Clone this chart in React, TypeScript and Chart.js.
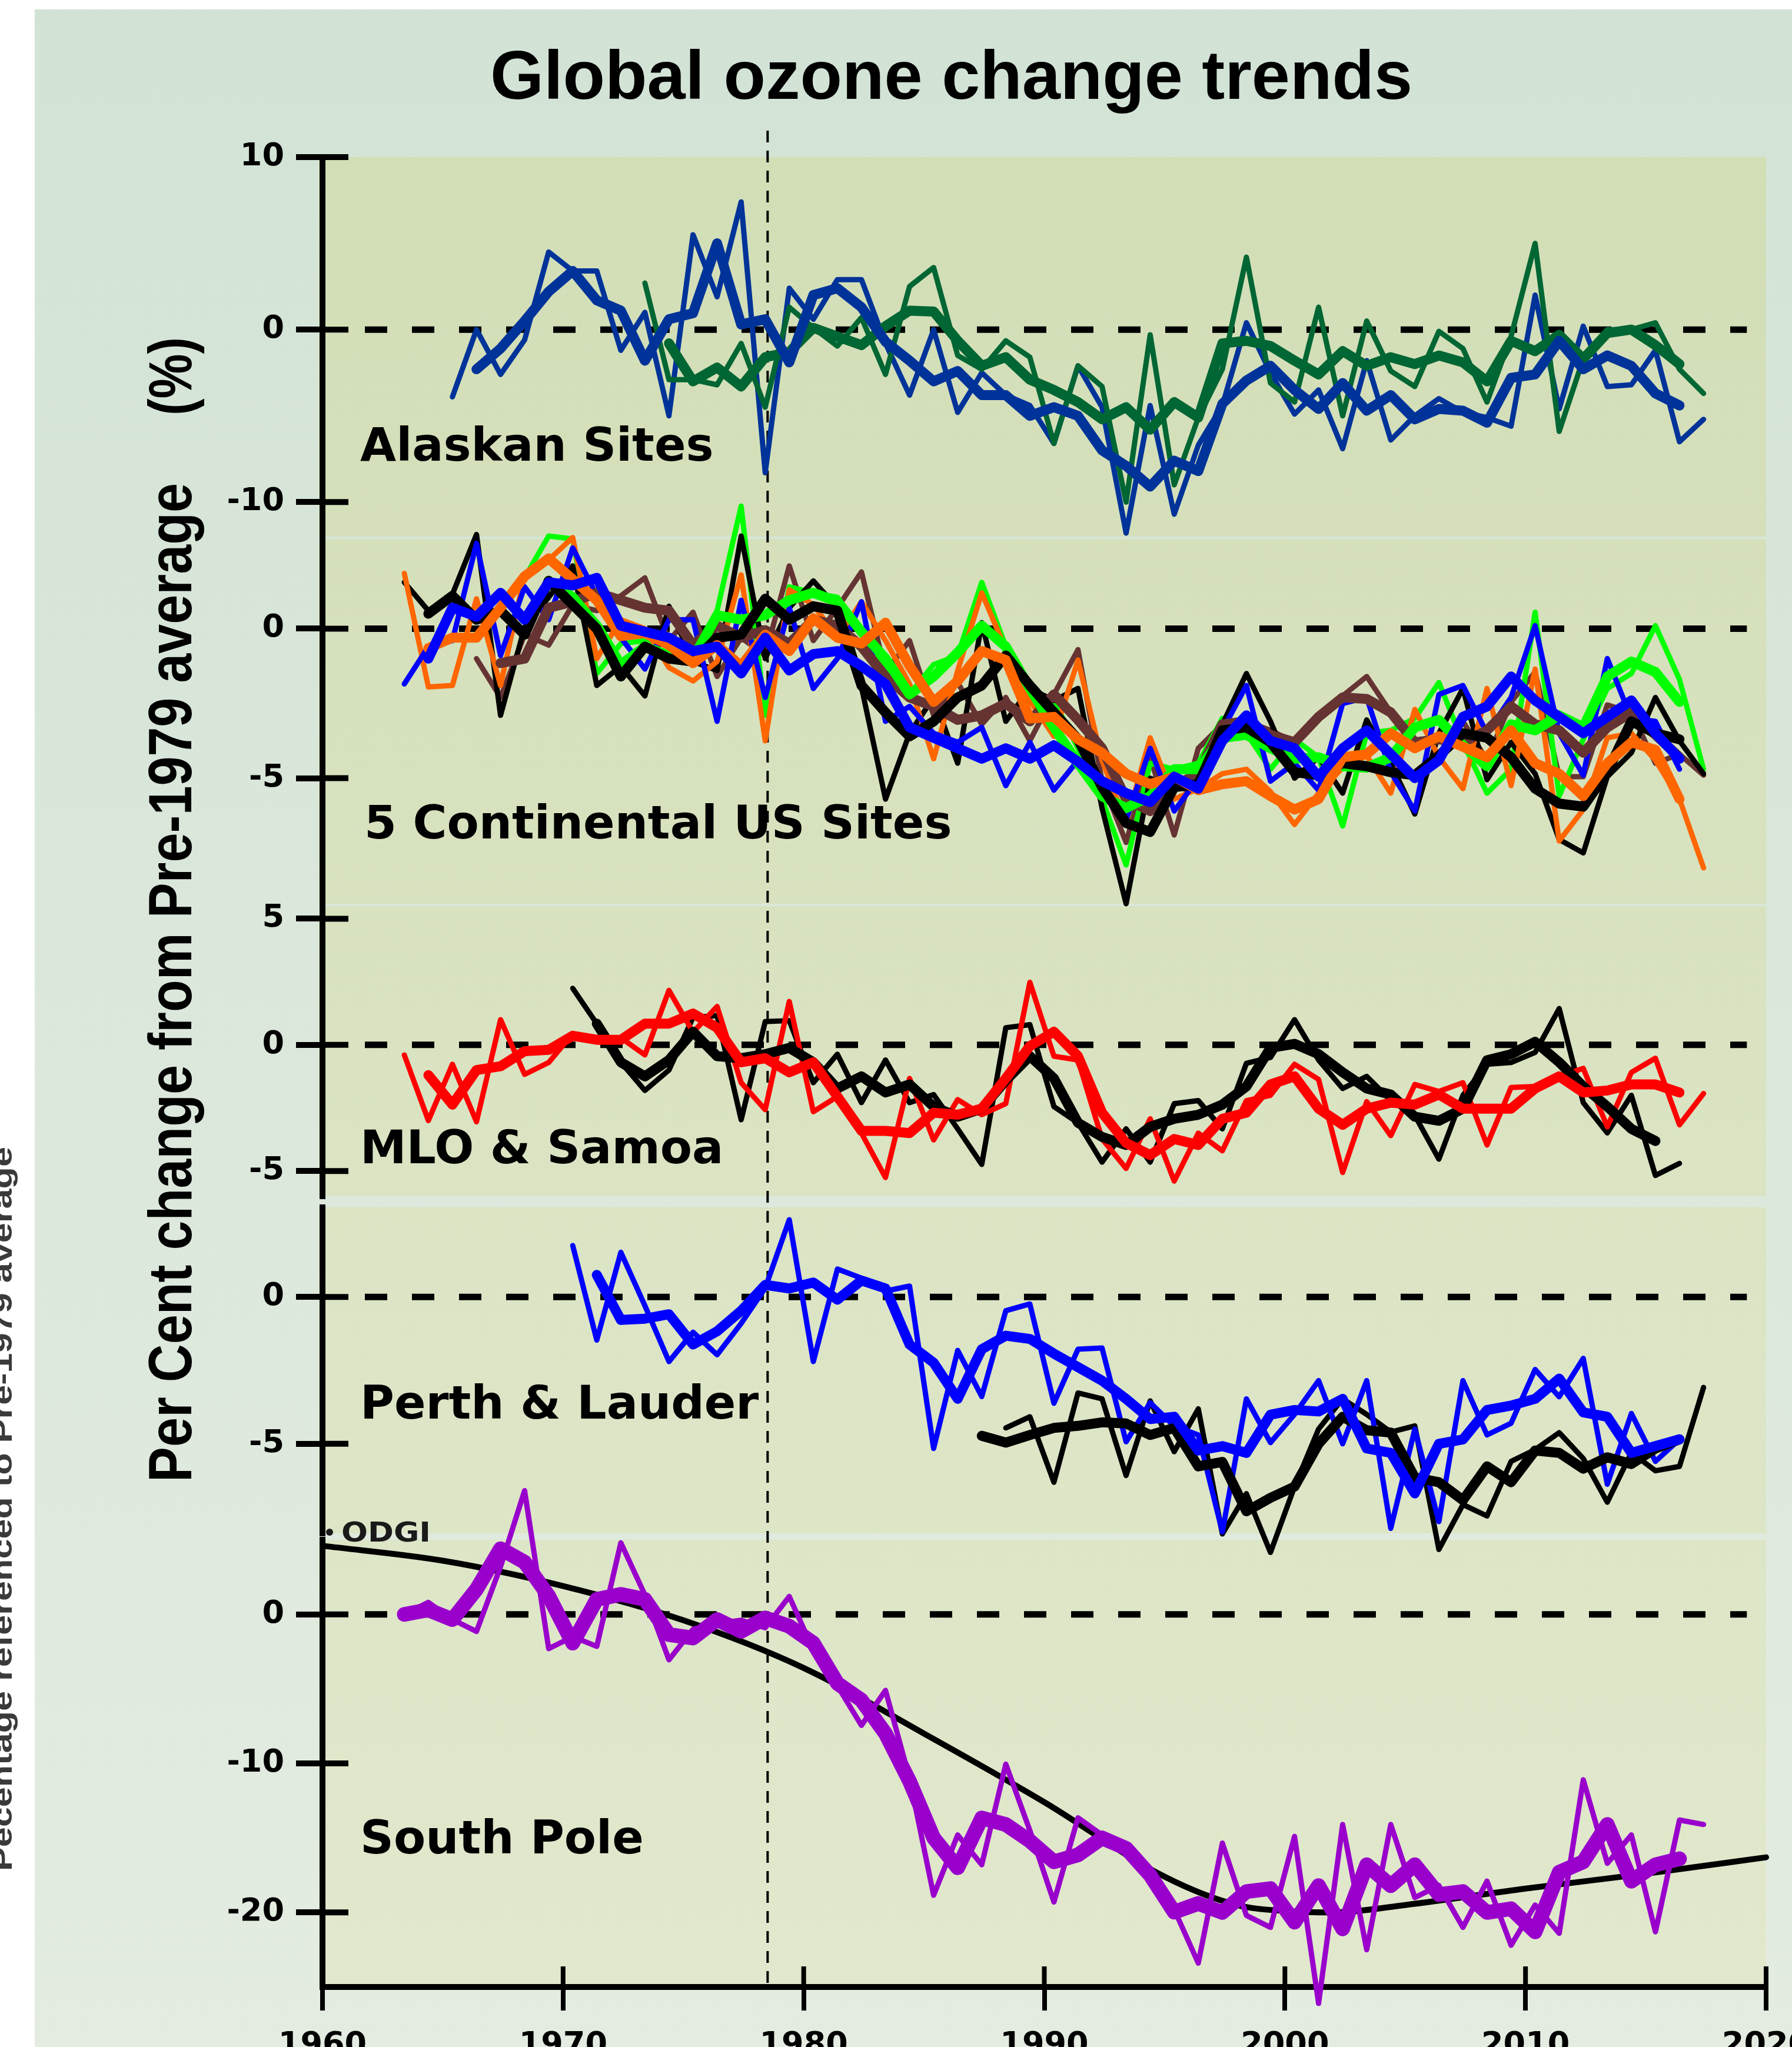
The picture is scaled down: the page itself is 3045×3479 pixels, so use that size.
import React, { useEffect, useRef } from 'react';
import { Chart, registerables } from 'chart.js';

Chart.register(...registerables);

const W = 3045;
const H = 3479;

// ---------- text ----------
const TITLE = 'Global ozone change trends';
const Y_TITLE = 'Per Cent change from Pre-1979 average';
const Y_UNIT = '(%)';
const LEFT_NOTE = 'Pecentage referenced to Pre-1979 average';
const PANEL_NAMES = ['Alaskan Sites', '5 Continental US Sites', 'MLO & Samoa', 'Perth & Lauder', 'South Pole'];
const ODGI_LABEL = 'ODGI';

// ---------- axes ----------
const X_TICKS = [1960, 1970, 1980, 1990, 2000, 2010, 2020];
const ALASKA_TICKS = [10, 0, -10];
const US_TICKS = [0, -5];
const MLO_TICKS = [5, 0, -5];
const PERTH_TICKS = [0, -5];
const SP_TICKS = [0, -10, -20];
const CUTOFF_YEAR = 1978.5;

// ---------- Alaskan sites ----------
const AK_BLUE_START = 1965.4;
const AK_BLUE_THIN = [-3.9, 0.0, -2.6, -0.6, 4.5, 3.4, 3.4, -1.2, 1.0, -5.0, 5.5, 1.9, 7.4, -8.3, 2.4, 0.6, 2.9, 2.9, -0.8, -3.8, 0.0, -4.8, -2.5, -3.8, -4.4, -6.6, -2.1, -4.5, -11.8, -4.4, -10.7, -6.7, -4.4, 0.4, -2.5, -4.9, -3.5, -6.9, -1.8, -6.4, -5.0, -4.0, -4.8, -5.1, -5.6, 2.0, -4.6, 0.2, -3.3, -3.2, -1.2, -6.5, -5.2];
const AK_BLUE_THICK_START = 1966.4;
const AK_BLUE_THICK = [-2.3, -1.1, 0.5, 2.2, 3.4, 1.7, 1.1, -1.8, 0.6, 0.95, 5.0, 0.3, 0.6, -1.9, 2.0, 2.4, 1.3, -0.7, -1.8, -3.0, -2.4, -3.8, -3.8, -5.0, -4.5, -5.0, -7.0, -7.9, -9.1, -7.6, -8.2, -4.3, -2.95, -2.1, -3.5, -4.6, -3.1, -4.7, -3.8, -5.2, -4.6, -4.7, -5.4, -2.8, -2.6, -0.65, -2.3, -1.5, -2.1, -3.7, -4.4];
const AK_GREEN_START = 1973.4;
const AK_GREEN_THIN = [2.7, -2.9, -2.9, -3.2, -0.8, -4.5, 1.3, 0.1, -0.95, 0.7, -2.6, 2.5, 3.6, -1.5, -2.3, -0.65, -1.6, -6.6, -2.1, -3.3, -10.0, -0.3, -9.0, -5.1, -2.3, 4.2, -3.1, -4.2, 1.3, -5.0, 0.5, -2.4, -3.3, -0.1, -1.1, -4.2, -0.4, 5.0, -5.9, -1.7, 0.0, 0.0, 0.4, -2.3, -3.7];
const AK_GREEN_THICK_START = 1974.4;
const AK_GREEN_THICK = [-0.8, -3.0, -2.2, -3.3, -1.6, -1.3, 0.1, -0.4, -0.9, 0.2, 1.1, 1.05, -0.65, -2.1, -1.6, -2.9, -3.5, -4.2, -5.2, -4.5, -5.8, -4.2, -5.1, -0.8, -0.65, -0.95, -1.8, -2.6, -1.25, -2.1, -1.6, -2.0, -1.5, -1.9, -3.0, -0.65, -1.25, -0.3, -1.7, -0.2, 0.0, -0.9, -2.0];

// ---------- 5 continental US sites ----------
const US_BLACK_THIN_START = 1963.4;
const US_BLACK_THIN = [1.55, 0.6, 1.15, 3.15, -2.9, 0.05, 1.05, 2.1, -1.9, -1.25, -2.25, 0.75, -1.1, -1.4, 3.1, -1.0, 0.7, 1.6, 0.7, -1.95, -5.7, -3.5, -2.3, -4.5, 0.2, -3.1, -2.0, -2.4, -2.0, -6.0, -9.2, -5.0, -5.35, -5.1, -3.2, -1.5, -3.1, -5.0, -4.3, -5.5, -3.05, -4.5, -6.2, -3.5, -2.0, -5.05, -3.8, -4.85, -7.05, -7.5, -4.95, -4.15, -2.3, -3.75, -4.85];
const US_BLACK_THICK_START = 1964.4;
const US_BLACK_THICK = [0.5, 1.1, 0.3, 0.6, -0.2, 1.6, 0.8, 0.0, -1.6, -0.6, -1.0, -1.1, -0.3, -0.2, 1.0, 0.3, 0.75, 0.6, -1.9, -2.8, -3.6, -3.1, -2.3, -1.9, -0.9, -1.9, -2.8, -3.7, -5.3, -6.5, -6.8, -5.3, -5.2, -3.4, -3.3, -3.8, -4.8, -4.9, -4.5, -4.6, -4.8, -4.9, -4.25, -3.5, -3.65, -4.3, -5.35, -5.85, -5.95, -4.8, -3.1, -3.5, -3.7];
const US_LIME_THIN_START = 1968.4;
const US_LIME_THIN = [1.7, 3.1, 3.0, -1.5, -0.5, -0.4, -0.9, -1.1, 0.6, 4.1, -2.9, 1.4, 1.2, 1.05, 0.0, -1.3, -2.2, -1.2, -0.9, 1.55, -0.6, -2.5, -2.4, -4.0, -5.7, -7.9, -4.5, -4.7, -4.5, -3.0, -3.5, -4.7, -3.7, -4.3, -6.6, -3.5, -3.4, -3.0, -1.8, -3.8, -5.5, -4.7, 0.55, -5.6, -3.7, -2.0, -1.5, 0.1, -1.7, -4.7];
const US_LIME_THICK_START = 1969.4;
const US_LIME_THICK = [1.6, 1.05, 0.1, -1.2, -0.6, -0.9, -1.0, 0.45, 0.3, 0.45, 0.95, 1.2, 0.9, -0.1, -1.0, -2.2, -1.6, -0.8, 0.1, -0.6, -2.0, -3.3, -4.5, -5.6, -6.0, -5.6, -4.7, -4.7, -3.65, -3.55, -4.0, -4.35, -4.3, -4.6, -4.65, -4.3, -3.3, -3.05, -3.9, -4.6, -3.2, -3.4, -2.9, -3.3, -1.6, -1.1, -1.45, -2.45];
const US_BLUE_THIN_START = 1963.4;
const US_BLUE_THIN = [-1.85, -0.6, -0.4, 2.85, -0.9, 1.4, 0.3, 2.7, 1.1, -0.3, -1.35, 0.3, 0.3, -3.1, 0.95, -2.3, 0.7, -2.0, -1.0, 0.9, -3.1, -2.6, -3.5, -3.8, -3.3, -5.25, -3.8, -5.4, -4.4, -5.2, -6.4, -4.0, -6.1, -5.0, -3.4, -1.9, -5.1, -4.5, -5.4, -2.5, -2.3, -4.8, -6.1, -2.2, -1.9, -3.5, -2.3, 0.1, -3.5, -4.9, -1.0, -3.0, -3.1, -4.7];
const US_BLUE_THICK_START = 1964.4;
const US_BLUE_THICK = [-1.0, 0.7, 0.4, 1.2, 0.3, 1.55, 1.45, 1.7, 0.1, -0.1, -0.3, -0.75, -0.6, -1.5, -0.3, -1.4, -0.85, -0.75, -1.25, -1.85, -3.3, -3.65, -4.0, -4.35, -4.0, -4.35, -3.9, -4.45, -5.1, -5.5, -5.8, -4.95, -5.35, -3.75, -2.9, -3.75, -4.0, -4.95, -4.0, -3.4, -4.2, -5.0, -4.4, -2.95, -2.6, -1.6, -2.4, -2.95, -3.5, -2.95, -2.4, -3.5, -4.35];
const US_ORANGE_THIN_START = 1963.4;
const US_ORANGE_THIN = [1.85, -1.95, -1.9, 1.0, -1.9, 1.8, 2.3, 3.05, -1.0, 0.3, 0.0, -1.3, -1.75, -1.1, 1.8, -3.75, 1.3, 0.8, -0.3, 0.9, -0.4, -1.85, -4.35, -1.4, 1.2, -0.7, -2.4, -3.6, -1.05, -4.4, -6.5, -3.65, -5.7, -5.35, -4.85, -4.7, -5.45, -6.55, -5.5, -4.65, -4.25, -5.5, -2.7, -4.3, -5.35, -2.0, -5.25, -1.35, -7.1, -6.05, -3.65, -3.5, -4.4, -5.7, -8.0];
const US_ORANGE_THICK_START = 1964.4;
const US_ORANGE_THICK = [-0.65, -0.3, -0.3, 0.7, 1.75, 2.35, 1.65, 0.95, -0.25, -0.15, -0.55, -1.15, -0.55, -1.25, -0.2, -0.75, 0.35, -0.3, -0.5, 0.2, -1.25, -2.45, -1.75, -0.75, -1.05, -3.0, -2.95, -3.7, -4.15, -4.85, -5.2, -4.95, -5.4, -5.2, -5.1, -5.6, -6.05, -5.7, -4.3, -4.2, -3.5, -4.0, -3.6, -3.95, -4.3, -3.4, -4.5, -4.85, -5.6, -4.5, -3.8, -4.05, -5.7];
const US_BROWN_THIN_START = 1966.4;
const US_BROWN_THIN = [-1.0, -2.3, -0.2, -0.55, 0.8, 0.6, 1.1, 1.7, -0.4, 0.55, -1.6, -0.3, -0.9, 2.1, -0.4, 0.7, 1.9, -1.45, -0.4, -2.9, -1.8, -3.2, -2.3, -3.75, -2.2, -0.7, -5.1, -7.15, -4.3, -6.9, -4.0, -3.2, -3.1, -3.4, -3.8, -3.0, -2.25, -1.6, -2.8, -3.85, -3.7, -3.1, -4.4, -2.45, -1.45, -4.95, -4.95, -2.55, -2.8, -4.5, -4.2, -4.9];
const US_BROWN_THICK_START = 1967.4;
const US_BROWN_THICK = [-1.15, -1.0, 0.7, 0.9, 1.2, 0.95, 0.7, 0.6, -0.55, 0.1, -0.3, -0.05, -0.5, 0.3, 0.1, -0.6, -1.6, -2.3, -2.6, -3.05, -2.9, -2.5, -3.1, -2.2, -3.05, -4.0, -5.7, -6.1, -5.25, -4.85, -3.2, -3.1, -3.55, -3.8, -2.95, -2.3, -2.35, -2.8, -3.8, -3.7, -3.8, -3.4, -2.6, -3.2, -3.4, -4.15, -3.3, -2.8, -3.55, -4.3];

// ---------- MLO & Samoa ----------
const MLO_BLACK_THIN_START = 1970.4;
const MLO_BLACK_THIN = [2.24, 0.84, -0.69, -1.81, -1.0, 1.08, 1.16, -2.97, 0.92, 0.96, -1.5, -0.37, -2.29, -0.6, -2.29, -1.97, -3.33, -4.74, 0.68, 0.8, -2.45, -3.09, -4.65, -3.33, -4.65, -2.33, -2.21, -3.33, -0.73, -0.5, 1.0, -0.6, -1.73, -1.25, -2.2, -2.8, -4.53, -2.0, -0.77, -0.7, -0.3, 1.44, -2.29, -3.49, -2.0, -5.18, -4.7];
const MLO_BLACK_THICK_START = 1971.4;
const MLO_BLACK_THICK = [0.84, -0.69, -1.25, -0.6, 0.52, -0.45, -0.53, -0.37, -0.12, -0.69, -1.73, -1.25, -1.89, -1.57, -2.45, -2.85, -2.53, -1.41, -0.45, -1.33, -3.09, -3.65, -3.97, -3.25, -2.93, -2.77, -2.37, -1.65, -0.12, 0.04, -0.37, -1.09, -1.73, -1.97, -2.85, -3.01, -2.53, -0.61, -0.37, 0.12, -0.69, -1.65, -2.45, -3.33, -3.81];
const MLO_RED_THIN_START = 1963.4;
const MLO_RED_THIN = [-0.4, -3.0, -0.77, -3.05, 1.0, -1.17, -0.7, 0.44, 0.2, 0.28, -0.4, 2.16, 0.5, 1.52, -1.5, -2.57, 1.72, -2.65, -2.05, -3.5, -5.26, -1.33, -3.77, -2.17, -2.77, -2.33, 2.48, -0.45, -0.6, -3.73, -4.9, -2.93, -5.4, -3.5, -4.2, -2.21, -2.0, -0.77, -1.37, -5.06, -2.25, -3.6, -1.57, -1.85, -1.5, -3.97, -1.69, -1.65, -1.25, -0.93, -3.25, -1.09, -0.53, -3.17, -1.93];
const MLO_RED_THICK_START = 1964.4;
const MLO_RED_THICK = [-1.2, -2.37, -1.0, -0.85, -0.25, -0.2, 0.36, 0.2, 0.2, 0.84, 0.84, 1.24, 0.68, -0.69, -0.53, -1.09, -0.69, -2.05, -3.41, -3.41, -3.5, -2.69, -2.77, -2.53, -1.33, -0.05, 0.52, -0.45, -2.69, -3.89, -4.37, -3.73, -3.97, -2.93, -2.69, -1.57, -1.25, -2.53, -3.17, -2.53, -2.29, -2.37, -1.97, -2.53, -2.53, -2.53, -1.73, -1.25, -1.89, -1.81, -1.57, -1.57, -1.89];

// ---------- Perth & Lauder ----------
const PL_BLUE_THIN_START = 1970.4;
const PL_BLUE_THIN = [1.75, -1.47, 1.52, -0.3, -2.2, -1.2, -1.97, -0.9, 0.3, 2.63, -2.2, 0.95, 0.64, 0.2, 0.37, -5.16, -1.82, -3.39, -0.47, -0.24, -3.62, -1.78, -1.74, -4.93, -3.6, -4.4, -4.7, -8.0, -3.47, -4.96, -4.0, -2.85, -5.0, -2.85, -7.88, -4.5, -7.65, -2.85, -4.7, -4.3, -2.47, -3.4, -2.09, -6.38, -3.97, -5.6, -4.85];
const PL_BLUE_THICK_START = 1971.4;
const PL_BLUE_THICK = [0.75, -0.78, -0.74, -0.59, -1.62, -1.17, -0.47, 0.41, 0.29, 0.49, -0.09, 0.56, 0.29, -1.62, -2.24, -3.47, -1.78, -1.32, -1.43, -1.93, -2.39, -2.85, -3.47, -4.16, -4.08, -5.23, -5.08, -5.31, -4.01, -3.85, -3.9, -3.47, -5.16, -5.31, -6.69, -5.0, -4.85, -3.85, -3.7, -3.47, -2.78, -3.93, -4.08, -5.31, -5.08, -4.85];
const PL_BLACK_THIN_START = 1988.4;
const PL_BLACK_THIN = [-4.46, -4.08, -6.31, -3.27, -3.47, -6.08, -3.54, -5.27, -3.81, -8.07, -6.7, -8.7, -6.46, -4.5, -3.47, -4.0, -4.6, -4.39, -8.6, -7.07, -7.46, -5.6, -5.2, -4.62, -5.5, -6.99, -5.3, -5.92, -5.77, -3.08];
const PL_BLACK_THICK_START = 1987.4;
const PL_BLACK_THICK = [-4.73, -4.96, -4.7, -4.46, -4.39, -4.27, -4.31, -4.7, -4.46, -5.77, -5.62, -7.3, -6.84, -6.46, -5.0, -4.08, -4.54, -4.62, -6.15, -6.31, -6.92, -5.77, -6.31, -5.23, -5.31, -5.85, -5.46, -5.69, -5.16, -4.85];

// ---------- South Pole ----------
const SP_THIN_START = 1963.4;
const SP_THIN = [0.0, 0.8, -0.35, -1.15, 3.2, 8.3, -2.3, -1.5, -2.15, 4.8, 1.3, -3.05, -1.0, -0.6, -0.4, -0.9, 1.2, -2.4, -4.8, -7.45, -5.1, -11.0, -18.85, -14.8, -16.8, -10.05, -14.5, -19.3, -13.65, -14.8, -16.0, -17.8, -19.8, -23.4, -15.35, -20.2, -21.0, -14.9, -26.1, -14.1, -22.5, -14.1, -19.0, -18.2, -21.0, -17.9, -22.2, -19.5, -21.4, -11.1, -16.7, -14.8, -21.3, -13.8, -14.1];
const SP_THICK_START = 1963.4;
const SP_THICK = [0.0, 0.3, -0.35, 1.68, 4.4, 3.5, 1.23, -1.93, 1.0, 1.34, 1.0, -1.36, -1.59, -0.35, -1.14, -0.24, -0.8, -1.93, -4.63, -5.76, -8.0, -11.2, -15.0, -17.0, -13.66, -14.1, -15.2, -16.6, -16.14, -15.0, -15.7, -17.5, -19.98, -19.4, -20.0, -18.6, -18.4, -20.65, -18.2, -21.1, -16.8, -18.2, -16.8, -18.8, -18.6, -20.0, -19.75, -21.3, -17.3, -16.6, -14.1, -17.9, -16.8, -16.4];
const ODGI_YEARS = [1960, 1965, 1970, 1975, 1980, 1985, 1990, 1995, 1998, 2000, 2002, 2005, 2010, 2015, 2020];
const ODGI_VALUES = [4.6, 3.6, 1.9, -0.4, -3.6, -8.0, -12.6, -17.6, -19.5, -19.9, -20.0, -19.5, -18.4, -17.4, -16.3];

// ---------- styling ----------
const NARROW = "'Liberation Sans Narrow', 'Liberation Sans', Arial, sans-serif";
const WIDE = "'DejaVu Sans', sans-serif";
const THIN = 9;
const THICK = 17;
const SP_THICK_W = 25;
const ODGI_W = 10;

type Pt = { x: number; y: number };
const series = (start: number, vals: number[]): Pt[] => vals.map((v, i) => ({ x: start + i, y: v }));

function line(label: string, data: Pt[], color: string, width: number, axis: string, extra: any = {}) {
  return {
    label,
    data,
    borderColor: color,
    backgroundColor: color,
    borderWidth: width,
    yAxisID: axis,
    pointRadius: 0,
    pointHoverRadius: 0,
    tension: 0,
    fill: false,
    clip: false,
    borderJoinStyle: 'round',
    borderCapStyle: 'round',
    ...extra,
  };
}

function buildDatasets() {
  const list: any[] = [
    // Alaskan
    line('AK blue', series(AK_BLUE_START, AK_BLUE_THIN), '#003399', THIN, 'yA'),
    line('AK green', series(AK_GREEN_START, AK_GREEN_THIN), '#006633', THIN, 'yA'),
    line('AK green avg', series(AK_GREEN_THICK_START, AK_GREEN_THICK), '#006633', THICK, 'yA'),
    line('AK blue avg', series(AK_BLUE_THICK_START, AK_BLUE_THICK), '#003399', THICK, 'yA'),
    // US
    line('US brown', series(US_BROWN_THIN_START, US_BROWN_THIN), '#663333', THIN, 'yU'),
    line('US lime', series(US_LIME_THIN_START, US_LIME_THIN), '#00ff00', THIN, 'yU'),
    line('US black', series(US_BLACK_THIN_START, US_BLACK_THIN), '#000000', THIN, 'yU'),
    line('US orange', series(US_ORANGE_THIN_START, US_ORANGE_THIN), '#ff6600', THIN, 'yU'),
    line('US blue', series(US_BLUE_THIN_START, US_BLUE_THIN), '#0000ff', THIN, 'yU'),
    line('US brown avg', series(US_BROWN_THICK_START, US_BROWN_THICK), '#663333', THICK, 'yU'),
    line('US lime avg', series(US_LIME_THICK_START, US_LIME_THICK), '#00ff00', THICK, 'yU'),
    line('US black avg', series(US_BLACK_THICK_START, US_BLACK_THICK), '#000000', THICK, 'yU'),
    line('US orange avg', series(US_ORANGE_THICK_START, US_ORANGE_THICK), '#ff6600', THICK, 'yU'),
    line('US blue avg', series(US_BLUE_THICK_START, US_BLUE_THICK), '#0000ff', THICK, 'yU'),
    // MLO & Samoa
    line('MLO black', series(MLO_BLACK_THIN_START, MLO_BLACK_THIN), '#000000', THIN, 'yM'),
    line('MLO red', series(MLO_RED_THIN_START, MLO_RED_THIN), '#ff0000', THIN, 'yM'),
    line('MLO black avg', series(MLO_BLACK_THICK_START, MLO_BLACK_THICK), '#000000', THICK, 'yM'),
    line('MLO red avg', series(MLO_RED_THICK_START, MLO_RED_THICK), '#ff0000', THICK, 'yM'),
    // Perth & Lauder
    line('PL black', series(PL_BLACK_THIN_START, PL_BLACK_THIN), '#000000', THIN, 'yP'),
    line('PL blue', series(PL_BLUE_THIN_START, PL_BLUE_THIN), '#0000ff', THIN, 'yP'),
    line('PL black avg', series(PL_BLACK_THICK_START, PL_BLACK_THICK), '#000000', THICK, 'yP'),
    line('PL blue avg', series(PL_BLUE_THICK_START, PL_BLUE_THICK), '#0000ff', THICK, 'yP'),
    // South Pole
    line('ODGI', ODGI_YEARS.map((x, i) => ({ x, y: ODGI_VALUES[i] })), '#000000', ODGI_W, 'yS', { cubicInterpolationMode: 'monotone' }),
    line('SP', series(SP_THIN_START, SP_THIN), '#9900cc', THIN, 'yS'),
    line('SP avg', series(SP_THICK_START, SP_THICK), '#9900cc', SP_THICK_W, 'yS'),
  ];
  const n = list.length;
  return list.map((d, i) => ({ ...d, order: n - i }));
}

const PANELS = ['yA', 'yU', 'yM', 'yP', 'yS'];
const LABEL_POS = [
  [612, 783],
  [619, 1425],
  [612, 1977],
  [612, 2411],
  [612, 3150],
];

function fitText(ctx: CanvasRenderingContext2D, text: string, x: number, y: number, targetW: number, font: string, color: string, rotated: boolean) {
  ctx.save();
  ctx.font = font;
  ctx.fillStyle = color;
  ctx.textAlign = 'left';
  ctx.textBaseline = 'alphabetic';
  const w = ctx.measureText(text).width;
  const sx = targetW / w;
  ctx.translate(x, y);
  if (rotated) ctx.rotate(-Math.PI / 2);
  ctx.scale(sx, 1);
  ctx.fillText(text, 0, 0);
  ctx.restore();
}

const decorPlugin = {
  id: 'decor',
  beforeDraw(chart: any) {
    const { ctx, chartArea, scales } = chart;
    ctx.save();
    ctx.fillStyle = '#ffffff';
    ctx.fillRect(0, 0, W, H);
    const g = ctx.createLinearGradient(0, 16, 0, H);
    g.addColorStop(0, '#d2e3d5');
    g.addColorStop(1, '#e4ece1');
    ctx.fillStyle = g;
    ctx.fillRect(59, 16, W - 59, H - 16);
    const pg = ctx.createLinearGradient(0, chartArea.top, 0, chartArea.bottom);
    pg.addColorStop(0, '#d2deb6');
    pg.addColorStop(1, '#e1e8cd');
    ctx.fillStyle = pg;
    for (const id of PANELS) {
      const s = scales[id];
      ctx.fillRect(s.right - 6, s.top, chartArea.right - s.right + 6, s.bottom - s.top);
    }
    ctx.restore();
  },
  beforeDatasetsDraw(chart: any) {
    const { ctx, chartArea, scales } = chart;
    const x = scales.x;
    ctx.save();
    ctx.strokeStyle = '#000';
    ctx.lineWidth = 11;
    ctx.lineCap = 'butt';
    ctx.setLineDash([38, 42]);
    for (const id of PANELS) {
      const y = scales[id].getPixelForValue(0);
      ctx.beginPath();
      ctx.moveTo(x.left + 72, y);
      ctx.lineTo(x.getPixelForValue(2019.2), y);
      ctx.stroke();
    }
    const cx = x.getPixelForValue(CUTOFF_YEAR);
    ctx.lineWidth = 4;
    ctx.setLineDash([20, 14]);
    ctx.beginPath();
    ctx.moveTo(cx, 222);
    ctx.lineTo(cx, chartArea.bottom);
    ctx.stroke();
    ctx.restore();
  },
  afterDraw(chart: any) {
    const { ctx, chartArea, scales } = chart;
    ctx.save();
    ctx.strokeStyle = '#000';
    ctx.setLineDash([]);
    ctx.lineWidth = 10;
    const panelTicks: Record<string, number[]> = { yA: ALASKA_TICKS, yU: US_TICKS, yM: MLO_TICKS, yP: PERTH_TICKS, yS: SP_TICKS };
    for (const id of PANELS) {
      const s = scales[id];
      for (const v of panelTicks[id]) {
        const y = s.getPixelForValue(v);
        ctx.beginPath();
        ctx.moveTo(s.right, y);
        ctx.lineTo(s.right + 44, y);
        ctx.stroke();
      }
    }
    ctx.lineWidth = 8;
    for (const v of X_TICKS) {
      const px = scales.x.getPixelForValue(v);
      ctx.beginPath();
      ctx.moveTo(px, chartArea.bottom);
      ctx.lineTo(px, chartArea.bottom - 35);
      ctx.stroke();
    }
    ctx.restore();

    fitText(ctx, TITLE, 833, 168, 1567, `bold 116px ${NARROW}`, '#000', false);
    fitText(ctx, Y_TITLE, 325, 2519, 1698, `bold 103px ${NARROW}`, '#000', true);
    fitText(ctx, Y_UNIT, 325, 706, 133, `bold 103px ${NARROW}`, '#000', true);
    fitText(ctx, LEFT_NOTE, 20, 3180, 1231, `bold 48px ${NARROW}`, '#3a3a3a', true);

    ctx.save();
    ctx.fillStyle = '#000';
    ctx.textAlign = 'left';
    ctx.textBaseline = 'alphabetic';
    ctx.font = `bold 79px ${WIDE}`;
    PANEL_NAMES.forEach((t, i) => ctx.fillText(t, LABEL_POS[i][0], LABEL_POS[i][1]));
    ctx.fillStyle = '#1a1a1a';
    ctx.beginPath();
    ctx.arc(560, 2604, 6, 0, Math.PI * 2);
    ctx.fill();
    ctx.restore();
    fitText(ctx, ODGI_LABEL, 580, 2620, 152, `bold 46px ${WIDE}`, '#1a1a1a', false);
  },
};

const tickFont = { family: 'DejaVu Sans', weight: 'bold' as const, size: 54 };

function yAxis(min: number, max: number, stackWeight: number, order: number, ticks: number[]) {
  return {
    type: 'linear',
    position: 'left',
    stack: 'panels',
    stackWeight,
    weight: order,
    min,
    max,
    afterBuildTicks: (s: any) => {
      s.ticks = ticks.map((v) => ({ value: v }));
    },
    afterFit: (s: any) => {
      s.width = 200;
      s.paddingTop = 0;
      s.paddingBottom = 0;
    },
    ticks: { font: tickFont, color: '#000', padding: 20, callback: (v: any) => String(v) },
    grid: { drawOnChartArea: false, drawTicks: true, tickLength: 45, lineWidth: 10, color: '#000' },
    border: { display: true, width: 10, color: '#000' },
  };
}

function spacer(stackWeight: number, order: number) {
  return {
    type: 'linear',
    position: 'left',
    stack: 'panels',
    stackWeight,
    weight: order,
    min: 0,
    max: 1,
    afterFit: (s: any) => {
      s.width = 200;
      s.paddingTop = 0;
      s.paddingBottom = 0;
    },
    ticks: { display: false },
    grid: { display: false, drawTicks: false },
    border: { display: false },
  };
}

export default function App() {
  const ref = useRef<HTMLCanvasElement>(null);
  useEffect(() => {
    const canvas = ref.current;
    if (!canvas) return;
    const chart = new Chart(canvas, {
      type: 'line',
      data: { datasets: buildDatasets() as any },
      options: {
        responsive: false,
        animation: false,
        devicePixelRatio: 1,
        events: [],
        layout: { padding: { left: 348, right: 44, top: 267, bottom: 0 } },
        plugins: { legend: { display: false }, tooltip: { enabled: false }, title: { display: false } },
        scales: {
          x: {
            type: 'linear',
            position: 'bottom',
            min: 1960,
            max: 2020,
            afterBuildTicks: (s: any) => {
              s.ticks = X_TICKS.map((v) => ({ value: v }));
            },
            afterFit: (s: any) => {
              s.height = 102;
              s.paddingLeft = 0;
              s.paddingRight = 0;
            },
            ticks: { font: tickFont, color: '#000', padding: 28, maxRotation: 0, autoSkip: false, callback: (v: any) => String(v) },
            grid: { drawOnChartArea: false, drawTicks: true, tickLength: 40, lineWidth: 8, color: '#000' },
            border: { display: true, width: 10, color: '#000' },
          },
          yA: yAxis(-12, 10, 645, 9, ALASKA_TICKS),
          g1: spacer(4, 8),
          yU: yAxis(-9.2, 3, 620, 7, US_TICKS),
          g2: spacer(4, 6),
          yM: yAxis(-6, 5.5, 493, 5, MLO_TICKS),
          g3: spacer(19, 4),
          yP: yAxis(-8.05, 3.05, 554, 3, PERTH_TICKS),
          g4: spacer(11, 2),
          yS: yAxis(-25, 5, 760, 1, SP_TICKS),
        } as any,
      },
      plugins: [decorPlugin],
    });
    return () => chart.destroy();
  }, []);
  return (
    <div style={{ position: 'absolute', left: 0, top: 0, width: W, height: H, overflow: 'hidden' }}>
      <canvas ref={ref} width={W} height={H} style={{ display: 'block', width: W, height: H }} />
    </div>
  );
}
